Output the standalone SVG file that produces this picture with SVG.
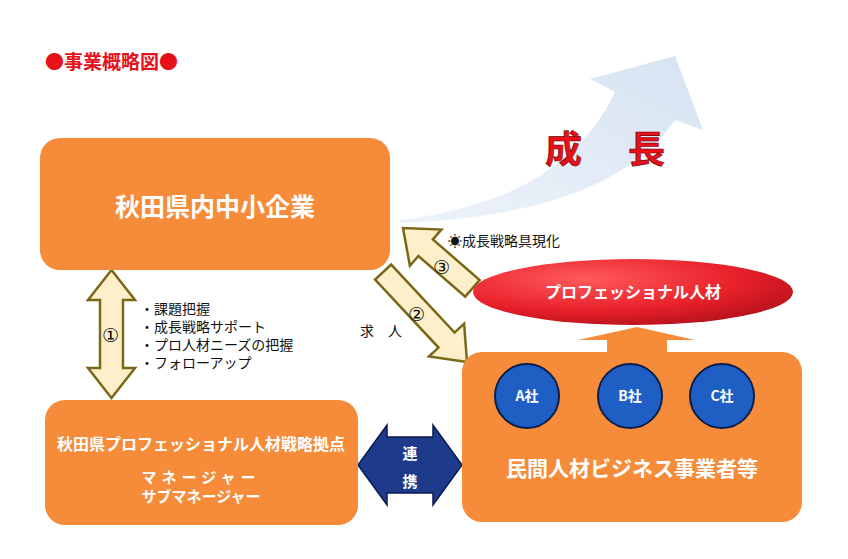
<svg xmlns="http://www.w3.org/2000/svg" width="848" height="559" viewBox="0 0 848 559">
<defs>
<linearGradient id="grow" x1="0" y1="1" x2="1" y2="0"><stop offset="0" stop-color="#EEF3FA"/><stop offset="1" stop-color="#D6E3F2"/></linearGradient>
<radialGradient id="ell" cx="0.35" cy="0.3" r="0.8"><stop offset="0" stop-color="#FF5A5A"/><stop offset="0.6" stop-color="#E8202A"/><stop offset="1" stop-color="#B0101A"/></radialGradient>
<style>
.box{fill:#F68B3A}
.w{fill:#fff;font-family:"Noto Sans CJK JP","Noto Sans",sans-serif;font-weight:bold;text-anchor:middle}
.t{fill:#111;font-family:"Noto Sans CJK JP","Noto Sans",sans-serif;font-size:14px}
.n{fill:#111;font-family:"DejaVu Sans","Noto Sans CJK JP",sans-serif;font-size:19px}
.cream{fill:#FCEFC9;stroke:#7A6818;stroke-width:2.5;stroke-linejoin:miter}
.co{fill:#1F5FC4;stroke:#0A1F4A;stroke-width:2}
</style>
</defs>
<text x="45" y="69" font-family="Noto Sans CJK JP,sans-serif" font-weight="bold" font-size="19" fill="#E8101A">●事業概略図●</text>
<path d="M400,220 Q565,200 615,92 L590,79 L675,56 L703,130 L675,120 Q610,215 400,223 Z" fill="url(#grow)"/>
<text x="545" y="163" font-family="Noto Sans CJK JP,sans-serif" font-weight="bold" font-size="37" fill="#E8101A" stroke="#600" stroke-width="0.6">成</text>
<text x="628" y="163" font-family="Noto Sans CJK JP,sans-serif" font-weight="bold" font-size="37" fill="#E8101A" stroke="#600" stroke-width="0.6">長</text>
<g id="connectors">
<path class="cream" d="M111.5,270 L135,300 L123,300 L123,368 L135,368 L111.5,398 L88,368 L100,368 L100,300 L88,300 Z"/>
<path class="cream" transform="translate(467,362) rotate(47)" d="M0,0 L-30,-24 L-30,-11 L-123,-11 L-123,11 L-30,11 L-30,24 Z"/>
<path class="cream" transform="translate(403,228) rotate(221)" d="M0,0 L-30,-24 L-30,-11 L-92,-11 L-92,11 L-30,11 L-30,24 Z"/>
<path d="M358,465 L387,425 L387,437 L433,437 L433,425 L462,465 L433,505 L433,493 L387,493 L387,505 Z" fill="#1E3A8A" stroke="#0A1A50" stroke-width="1.5"/>
<path d="M637,327 L695,340 L667,340 L667,356 L607,356 L607,340 L578,340 Z" fill="#F68B3A"/>
</g>
<text class="n" x="102" y="342">①</text>
<text class="n" x="408" y="321">②</text>
<text class="n" x="433" y="274">③</text>
<text class="t" x="360" y="336">求　人</text>
<text class="t" x="448" y="246">☀成長戦略具現化</text>
<text class="t" x="140" y="314">・課題把握</text>
<text class="t" x="140" y="332">・成長戦略サポート</text>
<text class="t" x="140" y="350">・プロ人材ニーズの把握</text>
<text class="t" x="140" y="368">・フォローアップ</text>
<text class="w" x="410" y="459" font-size="15">連</text>
<text class="w" x="410" y="487" font-size="15">携</text>
<g id="n1"><rect class="box" x="40" y="138" width="350" height="132" rx="20"/><text class="w" x="215" y="216" font-size="25">秋田県内中小企業</text></g>
<g id="n2"><rect class="box" x="45" y="400" width="313" height="125" rx="20"/><text class="w" x="201" y="450" font-size="16">秋田県プロフェッショナル人材戦略拠点</text><text class="w" x="201" y="483" font-size="15" letter-spacing="5">マネージャー</text><text class="w" x="201" y="502" font-size="15">サブマネージャー</text></g>
<g id="n3"><rect class="box" x="462" y="352" width="340" height="170" rx="20"/>
<circle class="co" cx="527" cy="396" r="32"/><circle class="co" cx="630" cy="396" r="32"/><circle class="co" cx="722" cy="396" r="32"/>
<text class="w" x="527" y="401" font-size="14">A社</text><text class="w" x="630" y="401" font-size="14">B社</text><text class="w" x="722" y="401" font-size="14">C社</text>
<text class="w" x="632" y="476" font-size="21">民間人材ビジネス事業者等</text></g>
<g id="n4"><ellipse cx="633" cy="292" rx="160" ry="33" fill="url(#ell)"/><text class="w" x="633" y="298" font-size="16">プロフェッショナル人材</text></g>
</svg>
